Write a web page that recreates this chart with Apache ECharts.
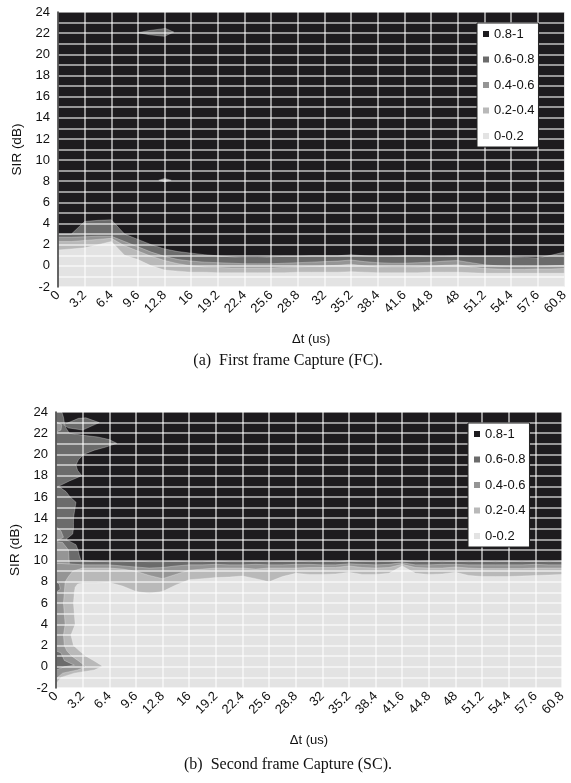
<!DOCTYPE html>
<html><head><meta charset="utf-8">
<script src="https://cdn.jsdelivr.net/npm/echarts@6.0.0/dist/echarts.min.js"></script>
<style>html,body{margin:0;padding:0;background:#fff}#c{width:571px;height:783px}</style>
</head><body><div id="c"></div><script>
// ---------- data ----------
const xTicks = ['0','3.2','6.4','9.6','12.8','16','19.2','22.4','25.6','28.8','32','35.2','38.4','41.6','44.8','48','51.2','54.4','57.6','60.8'];
const yTicks = [-2,0,2,4,6,8,10,12,14,16,18,20,22,24];
const levelNames = ['0.8-1','0.6-0.8','0.4-0.6','0.2-0.4','0-0.2'];

// Panel (a) First frame Capture: SIR level where the capture ratio crosses each threshold
const dtA = [0,1.6,3.2,4.8,6.4,8,9.6,11.2,12.8,14.4,16,17.6,19.2,20.8,22.4,24,25.6,27.2,28.8,30.4,32,33.6,35.2,36.8,38.4,40,41.6,43.2,44.8,46.4,48,49.6,51.2,52.8,54.4,56,57.6,59.2,60.8];
const b80A = [3.0,3.0,4.2,4.3,4.35,3.0,2.5,2.0,1.6,1.35,1.2,1.05,0.95,0.85,0.8,0.8,0.85,0.9,0.9,0.95,0.95,0.95,1.05,0.95,0.9,0.9,0.95,0.95,0.9,0.9,0.95,0.9,0.9,0.9,0.85,0.8,0.75,1.0,1.3];
const b60A = [2.7,2.7,2.75,2.8,2.8,2.3,1.8,1.3,0.9,0.6,0.45,0.35,0.3,0.25,0.2,0.2,0.2,0.25,0.3,0.35,0.4,0.45,0.55,0.4,0.3,0.25,0.25,0.3,0.35,0.45,0.5,0.3,0.1,0.0,-0.05,-0.05,-0.05,0.0,0.05];
const b40A = [2.3,2.3,2.4,2.5,2.6,1.9,1.4,0.9,0.5,0.2,0.0,-0.1,-0.15,-0.2,-0.2,-0.2,-0.2,-0.15,-0.1,-0.05,0.0,0.05,0.15,0.0,-0.1,-0.15,-0.15,-0.1,-0.05,0.05,0.1,-0.1,-0.25,-0.3,-0.35,-0.35,-0.3,-0.3,-0.25];
const b20A = [1.5,1.6,1.7,2.0,2.3,1.0,0.6,0.0,-0.4,-0.5,-0.6,-0.6,-0.65,-0.65,-0.65,-0.65,-0.65,-0.65,-0.6,-0.6,-0.6,-0.6,-0.55,-0.6,-0.65,-0.65,-0.65,-0.65,-0.6,-0.6,-0.6,-0.65,-0.7,-0.7,-0.7,-0.7,-0.7,-0.7,-0.7];
const islandA22 = [[9.6,22.05],[11.0,22.25],[12.9,22.45],[13.9,22.1],[12.8,21.7],[11.0,21.85]];
const islandA8 = [[12.1,8.1],[12.8,8.25],[13.6,8.1],[12.8,7.95]];

// Panel (b) Second frame Capture
const dtB = [3.2,4.8,6.4,8,9.6,11.2,12.8,14.4,16,17.6,19.2,20.8,22.4,24,25.6,27.2,28.8,30.4,32,33.6,35.2,36.8,38.4,40,41.6,43.2,44.8,46.4,48,49.6,51.2,52.8,54.4,56,57.6,59.2,60.8];
const b80B = [10.0,9.95,9.9,9.9,9.95,9.9,9.9,9.95,9.9,9.9,9.95,9.9,9.9,9.95,9.9,9.95,9.95,9.9,9.95,9.9,10.0,9.95,9.9,9.95,10.0,9.9,9.95,9.9,9.95,9.9,9.95,9.9,9.95,9.9,9.95,9.9,9.95];
const b60B = [9.6,9.6,9.6,9.5,9.4,9.3,9.35,9.5,9.6,9.6,9.65,9.6,9.6,9.65,9.6,9.6,9.65,9.65,9.6,9.6,9.7,9.65,9.6,9.65,9.8,9.6,9.6,9.65,9.65,9.6,9.6,9.6,9.6,9.6,9.65,9.6,9.6];
const b40B = [9.3,9.3,9.3,9.2,9.0,8.6,8.3,8.7,9.1,9.2,9.3,9.3,9.3,9.2,9.3,9.3,9.3,9.35,9.35,9.35,9.5,9.35,9.3,9.35,9.65,9.35,9.3,9.3,9.4,9.3,9.25,9.25,9.25,9.25,9.3,9.3,9.3];
const b20B = [7.9,7.9,7.95,7.6,7.1,6.9,7.1,7.7,8.2,8.3,8.4,8.45,8.55,8.3,8.0,8.5,8.8,8.7,8.7,8.75,8.9,8.7,8.7,8.8,9.5,8.8,8.7,8.75,8.9,8.6,8.5,8.5,8.5,8.55,8.6,8.65,8.7];
// left-edge structure of panel (b): delta-t where a threshold is crossed, per SIR
const sirHighB = [10,10.5,11,11.5,12,12.5,13,13.5,14,14.5,15,15.5,16,16.5,17,17.5,18,18.5,19,19.5,20,20.4,20.7,21.05,21.4,21.65,21.8,22,22.5,23,23.5,24];
const xb80B    = [3.0,2.8,2.65,2.4,1.2,2.0,2.1,2.1,2.1,2.2,2.3,2.4,1.7,1.2,0.3,1.6,3.1,2.6,2.4,2.7,3.3,4.6,6.0,7.3,6.4,5.0,3.3,1.6,1.2,1.0,0.9,0.7];
const sirLowB  = [9,8.5,8,7,6,5,4,3,2,1.5,1,0.5,0,-0.3,-0.6,-1,-1.5,-2];
const xb40B    = [2.0,1.5,1.1,1.0,0.9,1.0,1.1,0.9,1.0,1.3,1.9,2.8,3.6,2.6,0.8,0.2,0,0];
const sirLow20B= [7.8,7.5,7,6,5,4,3,2,1.5,1,0.5,0.05,-0.3,-0.6,-1,-1.5,-2];
const xb20B    = [2.6,2.3,2.2,2.1,2.2,2.3,1.8,2.1,2.8,3.6,4.7,5.6,4.6,2.2,0.6,0.1,0];
const edgeB60  = [[1.6,9.7],[0,9.75]];
const diamondB23 = [[0.9,22.8],[2.7,23.4],[3.6,23.45],[5.2,23.0],[3.2,22.3],[1.5,22.5]];
const midPatchesB = [
  [[0,22.1],[0.6,22.3],[0.7,22.8],[0,23.1]],
  [[0,11.8],[0.9,12.2],[0.6,12.8],[0,13.2]],
  [[0,9.75],[1.6,9.7],[1.5,11],[0.8,11.7],[0,11.8]]
];
const darkPatchesB = [
  [[0,7.0],[0.5,7.3],[0.4,7.8],[0,8.0]],
  [[0,-0.3],[1.0,0.0],[2.2,0.15],[1.0,0.6],[0.6,1.3],[0,1.5]]
];
const X_MIN = 0, X_MAX = 60.8, Y_MIN = -2, Y_MAX = 24;

// ---------- styles ----------
const levelColors = ['#1d1b1e','#6b6b6b','#959595','#b9b9b9','#e3e3e3'];
const FONT = '"Liberation Sans", Arial, Helvetica, sans-serif';
const SERIF = '"Liberation Serif", "Times New Roman", serif';
const gridLine = {color:'rgba(255,255,255,0.72)', width:1.5};

// ---------- build polygons ----------
const curve = (xs, ys) => xs.map((x, i) => [x, ys[i]]);
const side = (xs, ys) => xs.map((x, i) => [x, ys[i]]);
const rev = a => a.slice().reverse();
const fullRect = [[X_MIN,Y_MIN],[X_MAX,Y_MIN],[X_MAX,Y_MAX],[X_MIN,Y_MAX]];
const under = (xs, ys) => [[xs[0],Y_MIN], ...curve(xs, ys), [xs[xs.length-1],Y_MIN]];

const polyB60 = [[X_MIN,Y_MIN],[X_MAX,Y_MIN], ...rev(curve(dtB,b80B)), ...side(xb80B,sirHighB), [X_MIN,Y_MAX]];
const polyB40 = [[X_MIN,Y_MIN],[X_MAX,Y_MIN], ...rev(curve(dtB,b60B)), ...edgeB60];
const polyB20 = [[X_MAX,Y_MIN], ...rev(curve(dtB,b40B)), ...side(xb40B,sirLowB)];
const polyB0  = [[X_MAX,Y_MIN], ...rev(curve(dtB,b20B)), ...side(xb20B,sirLow20B)];

function polySeries(name, color, polys, gi, z, stroke) {
  return {
    type:'custom', name, xAxisIndex:gi, yAxisIndex:gi, z, silent:true, animation:false,
    itemStyle:{color},
    data: polys.map(p => p[0]),
    renderItem(params, api) {
      const poly = polys[params.dataIndex];
      return {type:'polygon', shape:{points: poly.map(p => api.coord(p))},
        style:{fill:color, stroke: stroke ? 'rgba(255,255,255,0.4)' : null, lineWidth:0.7}};
    }
  };
}

const series = [
  polySeries(levelNames[0], levelColors[0], [fullRect], 0, 2, false),
  polySeries(levelNames[1], levelColors[1], [under(dtA,b80A), islandA22], 0, 3, true),
  polySeries(levelNames[2], levelColors[2], [under(dtA,b60A), islandA8], 0, 4, true),
  polySeries(levelNames[3], levelColors[3], [under(dtA,b40A)], 0, 5, true),
  polySeries(levelNames[4], levelColors[4], [under(dtA,b20A)], 0, 6, true),

  polySeries(levelNames[0], levelColors[0], [fullRect], 1, 2, false),
  polySeries(levelNames[1], levelColors[1], [polyB60, diamondB23], 1, 3, true),
  polySeries(levelNames[2], levelColors[2], [polyB40, ...midPatchesB], 1, 4, true),
  polySeries(levelNames[1], levelColors[1], darkPatchesB, 1, 5, true),
  polySeries(levelNames[3], levelColors[3], [polyB20], 1, 6, true),
  polySeries(levelNames[4], levelColors[4], [polyB0], 1, 7, true)
];

const xAxisCfg = gi => ({
  type:'value', gridIndex:gi, min:X_MIN, max:X_MAX, interval:3.2, z:10,
  axisLine:{show:false}, axisTick:{show:false},
  splitLine:{show:true, lineStyle:gridLine},
  axisLabel:{rotate:45, margin:6, fontSize:13, color:'#111', fontFamily:FONT,
    formatter: v => xTicks[Math.round(v/3.2)] ?? ''},
  name:'Δt (us)', nameLocation:'middle', nameGap:46,
  nameTextStyle:{fontSize:13, color:'#111', fontFamily:FONT}
});
const yAxisCfg = gi => ({
  type:'value', gridIndex:gi, min:Y_MIN, max:Y_MAX, interval:1, z:11,
  axisLine:{show:true, onZero:false, lineStyle:{color:'#333', width:1.5}}, axisTick:{show:false},
  splitLine:{show:true, lineStyle:gridLine},
  axisLabel:{fontSize:13, margin:8, color:'#111', fontFamily:FONT,
    formatter: v => yTicks.includes(v) ? String(v) : ''},
  name:'SIR (dB)', nameLocation:'middle', nameGap:34, nameRotate:90,
  nameTextStyle:{fontSize:13.5, color:'#111', fontFamily:FONT}
});
const legendCfg = (left, top) => ({
  data: levelNames, orient:'vertical', left, top, icon:'rect',
  itemWidth:6, itemHeight:6, itemGap:11.5, selectedMode:false,
  backgroundColor:'#fff', borderColor:'#222', borderWidth:1, borderRadius:0,
  padding:[4,4,4,6], z:20,
  textStyle:{fontSize:13, color:'#111', fontFamily:FONT, lineHeight:14}
});

const chart = echarts.init(document.getElementById('c'), null, {renderer:'canvas'});
chart.setOption({
  animation:false,
  backgroundColor:'#fff',
  grid:[{left:58, top:12, width:510, height:275}, {left:51, top:412, width:511, height:276}],
  xAxis:[xAxisCfg(0), xAxisCfg(1)],
  yAxis:[yAxisCfg(0), yAxisCfg(1)],
  legend:[legendCfg(477,23), legendCfg(468,423)],
  series,
  graphic:[
    {type:'text', x:288, y:361, style:{text:'(a)  First frame Capture (FC).', font:'16px ' + SERIF, fill:'#111', align:'center', verticalAlign:'middle'}},
    {type:'text', x:288, y:765, style:{text:'(b)  Second frame Capture (SC).', font:'16px ' + SERIF, fill:'#111', align:'center', verticalAlign:'middle'}}
  ]
});
</script></body></html>
